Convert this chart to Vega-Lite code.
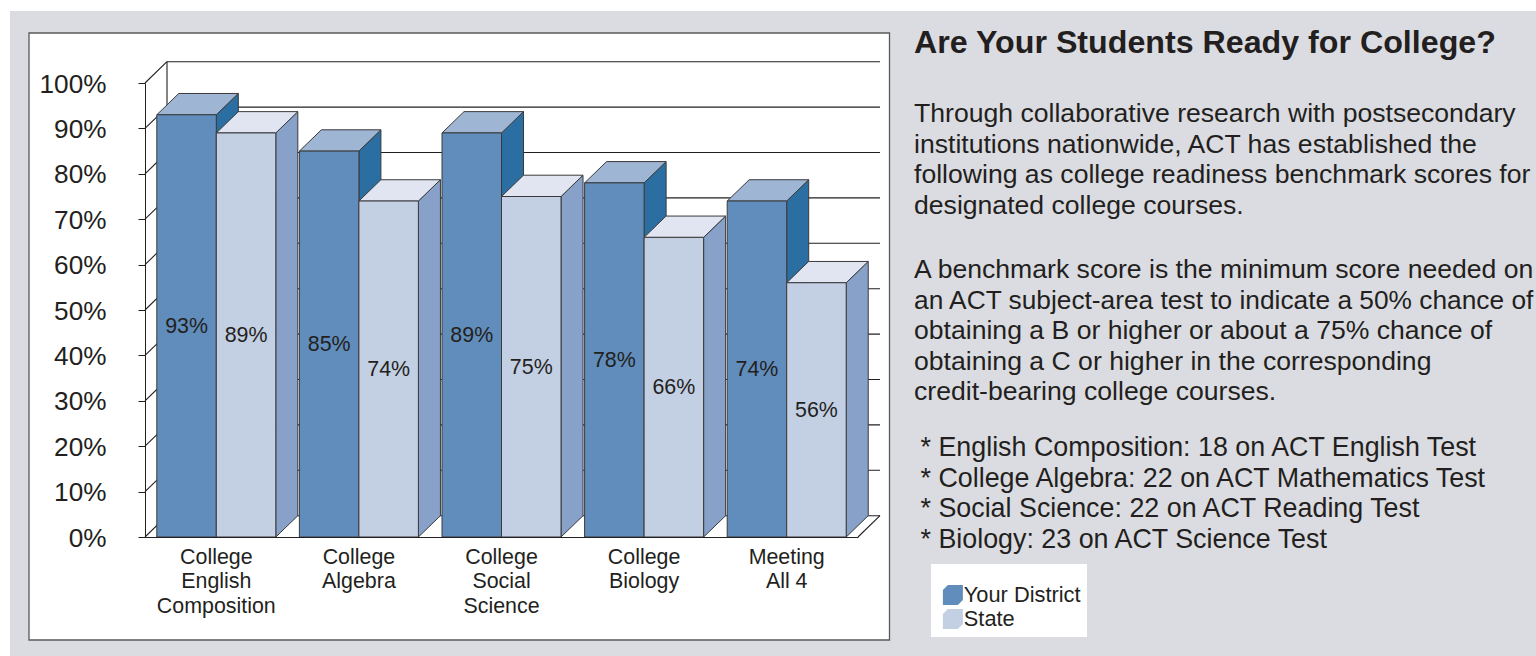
{
"$schema":"https://vega.github.io/schema/vega-lite/v6.json",
"width":1526,"height":645,
"autosize":{"type":"none"},
"padding":{"left":10,"top":11,"right":0,"bottom":0},
"background":"#ffffff",
"view":{"fill":"#dbdce1","stroke":null},
"config":{"font":"Liberation Sans"},
"datasets":{
"bars":[
{"cat":"College English Composition","series":"Your District","value":93},
{"cat":"College English Composition","series":"State","value":89},
{"cat":"College Algebra","series":"Your District","value":85},
{"cat":"College Algebra","series":"State","value":74},
{"cat":"College Social Science","series":"Your District","value":89},
{"cat":"College Social Science","series":"State","value":75},
{"cat":"College Biology","series":"Your District","value":78},
{"cat":"College Biology","series":"State","value":66},
{"cat":"Meeting All\u00a04","series":"Your District","value":74},
{"cat":"Meeting All\u00a04","series":"State","value":56}
],
"levels":[{"level":0},{"level":10},{"level":20},{"level":30},{"level":40},{"level":50},{"level":60},{"level":70},{"level":80},{"level":90},{"level":100}]
},
"layer":[
{"data":{"values":[{}]},"mark":{"type":"rect","fill":"#ffffff","stroke":"#58595b","strokeWidth":1.3},
 "encoding":{"x":{"value":19},"x2":{"value":879.5},"y":{"value":22},"y2":{"value":629}}},
{"data":{"name":"levels"},"mark":{"type":"rule","stroke":"#231f20","strokeWidth":1.1,"yOffset":-21.3},
 "encoding":{"x":{"value":157},"x2":{"value":870},"y":{"field":"level","type":"quantitative","scale":{"domain":[0,100],"range":[526,72],"nice":false,"zero":true},"axis":{"orient":"left","offset":-135,"values":[0,10,20,30,40,50,60,70,80,90,100],"labelExpr":"datum.value+'%'","labelFontSize":26.2,"labelColor":"#231f20","labelPadding":32,"labelOffset":1,"tickSize":7,"tickColor":"#231f20","domainColor":"#231f20","grid":false,"title":null,"zindex":1}}}},
{"data":{"name":"levels"},"mark":{"type":"rule","stroke":"#231f20","strokeWidth":1.1,"y2Offset":-21.3},
 "encoding":{"x":{"value":135},"x2":{"value":157},"y":{"field":"level","type":"quantitative"},"y2":{"field":"level"}}},
{"data":{"values":[{"level":0,"top":100}]},"mark":{"type":"rule","stroke":"#231f20","strokeWidth":1.1,"yOffset":-21.3,"y2Offset":-21.3},
 "encoding":{"x":{"value":157},"y":{"field":"level","type":"quantitative"},"y2":{"field":"top"}}},
{"data":{"values":[{"level":0}]},"mark":{"type":"rule","stroke":"#231f20","strokeWidth":1.1,"y2Offset":-21.3},
 "encoding":{"x":{"value":848},"x2":{"value":870},"y":{"field":"level","type":"quantitative"},"y2":{"field":"level"}}},
{"data":{"name":"bars"},
 "transform":[
  {"calculate":"indexof(['College English Composition','College Algebra','College Social Science','College Biology','Meeting All\u00a04'],datum.cat)","as":"idx"},
  {"calculate":"datum.series=='State'?1:0","as":"s"},
  {"calculate":"[0,1]","as":"d"},{"flatten":["d"]},
  {"calculate":"datum.idx+0.0828+0.4173*(datum.s+1)+datum.d*0.1543","as":"sx"},
  {"calculate":"datum.value+datum.d*4.69","as":"sy"},
  {"calculate":"datum.d*4.69","as":"sy0"}
 ],
 "mark":{"type":"area","orient":"vertical","stroke":"#3a3a3c","strokeWidth":1,"opacity":1},
 "encoding":{
  "x":{"field":"sx","type":"quantitative","scale":{"domain":[0,5],"range":[135,848],"nice":false,"zero":false},"axis":null},
  "y":{"field":"sy","type":"quantitative","stack":null},
  "y2":{"field":"sy0"},
  "detail":{"field":"cat"},
  "color":{"field":"series","type":"nominal","scale":{"domain":["Your District","State"],"range":["#2b6fa2","#88a1c8"]},"legend":null}
 }},
{"data":{"name":"bars"},
 "mark":{"type":"point","filled":true,"opacity":1,"size":3540,"shape":"M-1,0L1,0L1.739,-0.716L-0.261,-0.716Z","stroke":"#3a3a3c","strokeWidth":1},
 "encoding":{
  "x":{"field":"cat","type":"nominal","sort":null,"scale":{"domain":["College English Composition","College Algebra","College Social Science","College Biology","Meeting All\u00a04"],"type":"band","range":[135,848],"paddingInner":0.1655,"paddingOuter":0.0828},"axis":null},
  "xOffset":{"field":"series","type":"nominal","scale":{"domain":["Your District","State"],"range":[0,119]}},
  "y":{"field":"value","type":"quantitative"},
  "color":{"field":"series","type":"nominal","scale":{"domain":["Your District","State"],"range":["#9fb5d4","#e1e5f1"]},"legend":null}
 }},
{"data":{"name":"bars"},
 "mark":{"type":"bar","stroke":"#3a3a3c","strokeWidth":1,"opacity":1},
 "encoding":{
  "x":{"field":"cat","type":"nominal","sort":null,"scale":{"domain":["College English Composition","College Algebra","College Social Science","College Biology","Meeting All\u00a04"],"type":"band","range":[135,848],"paddingInner":0.1655,"paddingOuter":0.0828},
   "axis":{"orient":"bottom","offset":-119,"title":null,"ticks":false,"labelAngle":0,"labelExpr":"split(datum.label,' ')","labelFontSize":21.4,"labelColor":"#231f20","labelPadding":9.5,"labelLineHeight":24.4,"labelLimit":0,"labelOverlap":false,"labelBaseline":"top","domainColor":"#231f20","grid":false,"zindex":1}},
  "xOffset":{"field":"series","type":"nominal","scale":{"domain":["Your District","State"],"range":[0,119]}},
  "y":{"field":"value","type":"quantitative","stack":null},
  "y2":{"datum":0},
  "color":{"field":"series","type":"nominal","scale":{"domain":["Your District","State"],"range":["#608dbb","#c3cfe3"]},
   "legend":{"orient":"none","legendX":921,"legendY":553,"title":"\u00a0","titleFontSize":14,"titlePadding":0,"fillColor":"#ffffff","padding":6,"symbolOffset":5,"symbolType":"M-1,-0.5L-0.5,-1L1,-1L1,0.5L0.5,1L-1,1Z","symbolSize":400,"symbolStrokeWidth":0,"labelFontSize":21.8,"labelColor":"#231f20","labelOffset":0,"labelLimit":200,"labelExpr":"datum.label+'\u00a0\u00a0'","rowPadding":1}}
 }},
{"data":{"name":"bars"},
 "transform":[{"calculate":"datum.value/2","as":"mid"},{"calculate":"datum.value+'%'","as":"lab"}],
 "mark":{"type":"text","fontSize":21.4,"color":"#231f20","baseline":"middle","align":"center","dy":1},
 "encoding":{
  "x":{"field":"cat","type":"nominal","sort":null,"scale":{"domain":["College English Composition","College Algebra","College Social Science","College Biology","Meeting All\u00a04"],"type":"band","range":[135,848],"paddingInner":0.1655,"paddingOuter":0.0828},"axis":null},
  "xOffset":{"field":"series","type":"nominal","scale":{"domain":["Your District","State"],"range":[0,119]}},
  "y":{"field":"mid","type":"quantitative"},
  "text":{"field":"lab","type":"nominal"}
 }},
{"data":{"values":[{"t":"Are Your Students Ready for College?"}]},
 "mark":{"type":"text","fontSize":32.2,"fontWeight":"bold","color":"#231f20","align":"left","baseline":"alphabetic"},
 "encoding":{"x":{"value":904},"y":{"value":42},"text":{"field":"t","type":"nominal"}}},
{"data":{"values":[
  {"t":"Through collaborative research with postsecondary\ninstitutions nationwide, ACT has established the\nfollowing as college readiness benchmark scores for\ndesignated college courses."}
 ]},
 "mark":{"type":"text","fontSize":26.6,"color":"#231f20","align":"left","baseline":"alphabetic","lineBreak":"\n","lineHeight":30.6},
 "encoding":{"x":{"value":904},"y":{"value":111},"text":{"field":"t","type":"nominal"}}},
{"data":{"values":[{"t":"A benchmark score is the minimum score needed on"}]},
 "mark":{"type":"text","fontSize":26.6,"color":"#231f20","align":"left","baseline":"alphabetic"},
 "encoding":{"x":{"value":904},"y":{"value":267},"text":{"field":"t","type":"nominal"}}},
{"data":{"values":[{"t":"an ACT subject-area test to indicate a 50% chance of"}]},
 "mark":{"type":"text","fontSize":26.3,"color":"#231f20","align":"left","baseline":"alphabetic"},
 "encoding":{"x":{"value":904},"y":{"value":297.6},"text":{"field":"t","type":"nominal"}}},
{"data":{"values":[
  {"t":"obtaining a B or higher or about a 75% chance of\nobtaining a C or higher in the corresponding\ncredit-bearing college courses."}
 ]},
 "mark":{"type":"text","fontSize":26.6,"color":"#231f20","align":"left","baseline":"alphabetic","lineBreak":"\n","lineHeight":30.6},
 "encoding":{"x":{"value":904},"y":{"value":328.2},"text":{"field":"t","type":"nominal"}}},
{"data":{"values":[
  {"t":"* English Composition: 18 on ACT English Test\n* College Algebra: 22 on ACT Mathematics Test\n* Social Science: 22 on ACT Reading Test\n* Biology: 23 on ACT Science Test"}
 ]},
 "mark":{"type":"text","fontSize":26.85,"color":"#231f20","align":"left","baseline":"alphabetic","lineBreak":"\n","lineHeight":30.6},
 "encoding":{"x":{"value":910.5},"y":{"value":445},"text":{"field":"t","type":"nominal"}}}
],
"resolve":{"scale":{"x":"independent","xOffset":"independent","color":"independent"},"axis":{"x":"independent"},"legend":{"color":"independent"}}
}
